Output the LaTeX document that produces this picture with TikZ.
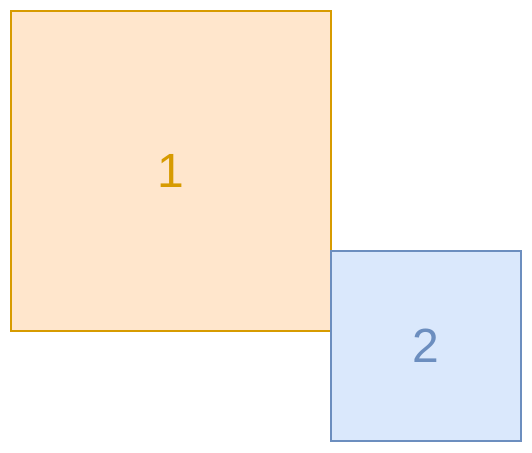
\documentclass[tikz,border=0pt]{standalone}
\usepackage{fontspec}
\setmainfont{Liberation Sans}
\definecolor{orangefill}{HTML}{FFE6CC}
\definecolor{orangeline}{HTML}{D79B00}
\definecolor{bluefill}{HTML}{DAE8FC}
\definecolor{blueline}{HTML}{6C8EBF}
\begin{document}
\begin{tikzpicture}[x=1pt,y=-1pt]
		\useasboundingbox (0,0) rectangle (532,452);
		\node[draw=orangeline, fill=orangefill, text=orangeline, line width=1.3pt, minimum size=320pt, inner sep=0pt, font=\fontsize{48}{48}\selectfont] (one) at (171,171) {1};
		\node[draw=blueline, fill=bluefill, text=blueline, line width=1.3pt, minimum size=190pt, inner sep=0pt, font=\fontsize{48}{48}\selectfont] (two) at (426,346) {2};
		\end{tikzpicture}
\end{document}
